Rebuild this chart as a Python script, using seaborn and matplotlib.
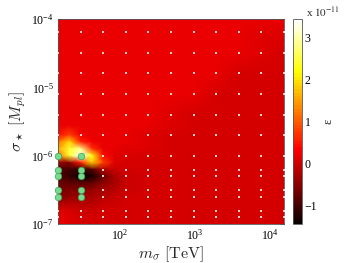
import numpy as np
import pandas as pd
import matplotlib
matplotlib.use("Agg")
import matplotlib.pyplot as plt
import seaborn as sns
from matplotlib.colors import Normalize
from matplotlib.ticker import LogLocator, NullFormatter

sns.set_theme(style="white")
plt.rcParams['font.family'] = ['Liberation Serif', 'DejaVu Serif']
plt.rcParams['mathtext.fontset'] = 'stix'

# ---- data ----
# columns of the epsilon map: m_sigma [TeV]
m_sigma = [15, 21.2, 30, 42.4, 60, 84.9, 120, 240, 480, 960, 1920, 3840, 7680, 15360]
# rows of the epsilon map: sigma_star [M_pl]
sigma_star = [1e-4, 6.3e-5, 3.2e-5, 1.6e-5, 7.9e-6, 4e-6, 2.8e-6, 2e-6, 1.6e-6,
              1.26e-6, 1e-6, 7.9e-7, 6.3e-7, 5e-7, 4e-7, 3.2e-7, 2.5e-7, 2e-7,
              1.6e-7, 1.26e-7, 1e-7]
# epsilon in units of 1e-11 (one list per sigma_star row, one value per m_sigma)
eps = [
    [0.20, 0.20, 0.20, 0.20, 0.20, 0.20, 0.20, 0.20, 0.20, 0.20, 0.20, 0.20, 0.18, 0.16],
    [0.20, 0.20, 0.20, 0.20, 0.20, 0.20, 0.20, 0.20, 0.20, 0.20, 0.20, 0.20, 0.15, 0.10],
    [0.20, 0.20, 0.20, 0.20, 0.20, 0.20, 0.20, 0.20, 0.20, 0.20, 0.20, 0.16, 0.10, 0.05],
    [0.20, 0.20, 0.20, 0.20, 0.20, 0.20, 0.20, 0.20, 0.20, 0.20, 0.16, 0.08, 0.05, 0.05],
    [0.20, 0.20, 0.20, 0.20, 0.20, 0.20, 0.20, 0.20, 0.20, 0.17, 0.08, 0.05, 0.05, 0.05],
    [0.20, 0.20, 0.20, 0.20, 0.20, 0.20, 0.20, 0.20, 0.14, 0.06, 0.05, 0.05, 0.05, 0.05],
    [0.20, 0.20, 0.20, 0.20, 0.20, 0.20, 0.20, 0.17, 0.10, 0.05, 0.05, 0.05, 0.05, 0.05],
    [0.45, 0.80, 0.30, 0.22, 0.20, 0.20, 0.20, 0.13, 0.06, 0.05, 0.05, 0.05, 0.05, 0.05],
    [1.10, 1.90, 0.60, 0.25, 0.20, 0.20, 0.16, 0.11, 0.05, 0.05, 0.05, 0.05, 0.05, 0.05],
    [1.60, 2.40, 2.90, 0.70, 0.22, 0.20, 0.13, 0.09, 0.05, 0.05, 0.05, 0.05, 0.05, 0.05],
    [1.10, 2.40, 3.40, 2.30, 0.40, 0.15, 0.10, 0.07, 0.05, 0.05, 0.05, 0.05, 0.05, 0.05],
    [-0.40, -0.50, 0.60, 1.80, 0.80, 0.12, 0.06, 0.05, 0.05, 0.05, 0.05, 0.05, 0.05, 0.05],
    [-0.90, -1.00, -1.10, -0.90, -0.20, -0.05, 0.03, 0.05, 0.05, 0.05, 0.05, 0.05, 0.05, 0.05],
    [-0.90, -1.10, -1.45, -1.30, -0.70, -0.30, -0.05, 0.04, 0.05, 0.05, 0.05, 0.05, 0.05, 0.05],
    [-0.75, -0.80, -0.90, -0.80, -0.50, -0.25, -0.05, 0.04, 0.05, 0.05, 0.05, 0.05, 0.05, 0.05],
    [-0.65, -0.60, -0.55, -0.45, -0.30, -0.15, 0.00, 0.04, 0.05, 0.05, 0.05, 0.05, 0.05, 0.05],
    [-0.55, -0.45, -0.35, -0.25, -0.15, -0.05, 0.03, 0.05, 0.05, 0.05, 0.05, 0.05, 0.05, 0.05],
    [-0.20, -0.20, -0.20, -0.15, -0.05, 0.00, 0.05, 0.05, 0.05, 0.05, 0.05, 0.05, 0.05, 0.05],
    [0.10, 0.02, -0.05, 0.00, 0.03, 0.05, 0.05, 0.05, 0.05, 0.05, 0.05, 0.05, 0.05, 0.05],
    [0.18, 0.10, 0.03, 0.05, 0.05, 0.05, 0.05, 0.05, 0.05, 0.05, 0.05, 0.05, 0.05, 0.05],
    [0.20, 0.12, 0.05, 0.05, 0.05, 0.05, 0.05, 0.05, 0.05, 0.05, 0.05, 0.05, 0.05, 0.05],
]
# simulated grid points (white dots)
dot_m = [15, 30, 60, 120, 240, 480, 960, 1920, 3840, 7680, 15360]
dot_sigma = [6.4e-5, 3.2e-5, 1.6e-5, 8e-6, 4e-6, 2e-6, 1e-6,
             6.25e-7, 5e-7, 3.125e-7, 2.5e-7, 1.5625e-7, 1.25e-7]
# highlighted points (green)
green_m = [15, 15, 15, 15, 15, 30, 30, 30, 30, 30]
green_sigma = [1e-6, 6.25e-7, 5e-7, 3.125e-7, 2.5e-7,
               1e-6, 6.25e-7, 5e-7, 3.125e-7, 2.5e-7]
cbar_ticks = [-1, 0, 1, 2, 3]
eps_min, eps_max = -1.45, 3.45

# ---- figure ----
fig = plt.figure(figsize=(3.49, 2.63), dpi=100)
ax = fig.add_axes([58/349, 1-224/263, (284-58)/349, (224-19)/263])
cax = fig.add_axes([293/349, 1-224/263, 9/349, (224-19)/263])

cmap = plt.get_cmap('hot').resampled(64)
norm = Normalize(vmin=eps_min, vmax=eps_max)
X, Y = np.meshgrid(m_sigma, sigma_star)
mesh = ax.pcolormesh(X, Y, np.array(eps), shading='gouraud', cmap=cmap, norm=norm,
                     rasterized=True)

dots = pd.DataFrame([(m, s) for s in dot_sigma for m in dot_m], columns=['m', 's'])
sns.scatterplot(data=dots, x='m', y='s', ax=ax, color='white', s=0.8, marker='s',
                linewidth=0, alpha=0.8, legend=False, zorder=3)
green = pd.DataFrame({'m': green_m, 's': green_sigma})
sns.scatterplot(data=green, x='m', y='s', ax=ax, color='#74dc8c', s=22,
                edgecolor='#3f9e5a', linewidth=0.5, legend=False, zorder=4, clip_on=False)

ax.set_xscale('log')
ax.set_yscale('log')
ax.set_xlim(m_sigma[0], m_sigma[-1])
ax.set_ylim(sigma_star[-1], sigma_star[0])
ax.set_xticks([1e2, 1e3, 1e4])
ax.set_yticks([1e-7, 1e-6, 1e-5, 1e-4])
ax.xaxis.set_minor_locator(LogLocator(base=10, subs=np.arange(2, 10)))
ax.yaxis.set_minor_locator(LogLocator(base=10, subs=np.arange(2, 10)))
ax.xaxis.set_minor_formatter(NullFormatter())
ax.yaxis.set_minor_formatter(NullFormatter())
ax.tick_params(which='both', direction='in', top=True, right=True, colors='#333333',
               labelcolor='black', labelsize=8.5, pad=3)
ax.tick_params(which='major', length=3, width=0.5)
ax.tick_params(which='minor', length=1.5, width=0.4)
for sp in ax.spines.values():
    sp.set_color('#555555'); sp.set_linewidth(0.6)

ax.set_xlabel(r'$m_\sigma\ [\mathrm{TeV}]$', fontsize=11.5, math_fontfamily='cm', labelpad=1)
ax.set_ylabel(r'$\sigma_\star\ [M_{pl}]$', fontsize=11.5, math_fontfamily='cm', labelpad=2)

cb = fig.colorbar(mesh, cax=cax, ticks=cbar_ticks)
cb.ax.tick_params(direction='in', length=2, width=0.5, labelsize=8.5, pad=2, colors='#333333',
                  labelcolor='black')
cb.outline.set_edgecolor('#555555'); cb.outline.set_linewidth(0.6)
cb.set_label('ε', fontsize=9, labelpad=4)
fig.text(306/349, 1-12/263, r'x $10^{-11}$', fontsize=8, ha='left', va='center')

fig.savefig('out.png', dpi=100)
